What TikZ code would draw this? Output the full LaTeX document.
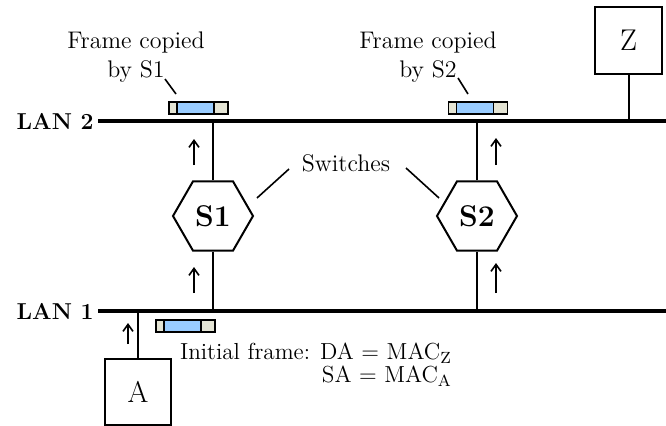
\documentclass[tikz,border=0pt]{standalone}
\usetikzlibrary{arrows.meta, shapes.geometric}

\definecolor{framefill}{RGB}{153,204,255}
\definecolor{framecap}{RGB}{228,228,212}

\begin{document}
\begin{tikzpicture}[
    x=0.5pt, y=0.5pt,
    lan/.style={line width=1.6pt},
    link/.style={line width=1pt},
    flow/.style={-{Straight Barb[length=3.5pt,width=5pt]}, line width=0.8pt},
    pointer/.style={line width=0.8pt},
    station/.style={draw, line width=1pt, minimum size=33pt, inner sep=0pt, font=\fontsize{15}{15}\selectfont},
    switch/.style={draw, regular polygon, regular polygon sides=6, minimum size=40pt, inner sep=0pt, line width=1pt, font=\bfseries\fontsize{15}{15}\selectfont},
    lanlabel/.style={anchor=east, inner sep=1pt, font=\bfseries\fontsize{11.5}{11.5}\selectfont},
    note/.style={align=center, inner sep=0pt, font=\fontsize{12}{14.5}\selectfont},
    pdu/.pic={
        \draw[line width=0.7pt, fill=framecap] (-29.5,-6) rectangle (29.5,6);
        \draw[line width=0.7pt, fill=framefill] (-21.5,-6) rectangle (15.5,6);
    }
]
\useasboundingbox (0,0) rectangle (666,425);

% LAN segments
\node[lanlabel] (lan2) at (96,304) {LAN 2};
\node[lanlabel] (lan1) at (96,114) {LAN 1};
\coordinate (lan2r) at (666,304);
\coordinate (lan1r) at (666,114);
\draw[lan] (lan2.east) ++(2,0) -- (lan2r);
\draw[lan] (lan1.east) ++(2,0) -- (lan1r);

% switches and stations
\node[switch] (s1) at (213,209) {S1};
\node[switch] (s2) at (477,209) {S2};
\node[station] (a) at (138,33) {A};
\node[station, minimum size=33.5pt] (z) at (628.5,384.5) {Z};

\draw[link] (s1.north) -- (s1.north |- lan2r);
\draw[link] (s1.south) -- (s1.south |- lan1r);
\draw[link] (s2.north) -- (s2.north |- lan2r);
\draw[link] (s2.south) -- (s2.south |- lan1r);
\draw[link] (a.north) -- (a.north |- lan1r);
\draw[link] (z.south) -- (z.south |- lan2r);

% frames
\pic at (198.5,317) {pdu};
\pic at (478,317) {pdu};
\pic at (185.5,99) {pdu};

% direction of travel
\coordinate (f1a) at (194,260); \coordinate (f1b) at (194,286);
\coordinate (f2a) at (194,132); \coordinate (f2b) at (194,158);
\coordinate (f3a) at (496,260); \coordinate (f3b) at (496,287);
\coordinate (f4a) at (496,132); \coordinate (f4b) at (496,162);
\coordinate (f5a) at (128,81);  \coordinate (f5b) at (128,102);
\foreach \i in {1,...,5}
    \draw[flow] (f\i a) -- (f\i b);

% labels
\node[note] (copy1) at (136,368) {Frame copied\\by S1};
\node[note] (copy2) at (428,368) {Frame copied\\by S2};
\node[note] (sw) at (346,262) {Switches};
\node[note, align=right, font=\fontsize{11.6}{11.5}\selectfont] (initial) at (316,60)
    {Initial frame: DA = MAC\textsubscript{Z}\\SA = MAC\textsubscript{A}};

\coordinate (p1a) at (165,346); \coordinate (p1b) at (176,331);
\coordinate (p2a) at (458,347); \coordinate (p2b) at (468,331);
\coordinate (p3a) at (289,256); \coordinate (p3b) at (257,227);
\coordinate (p4a) at (406,257); \coordinate (p4b) at (439,227);
\foreach \i in {1,...,4}
    \draw[pointer] (p\i a) -- (p\i b);
\end{tikzpicture}
\end{document}
